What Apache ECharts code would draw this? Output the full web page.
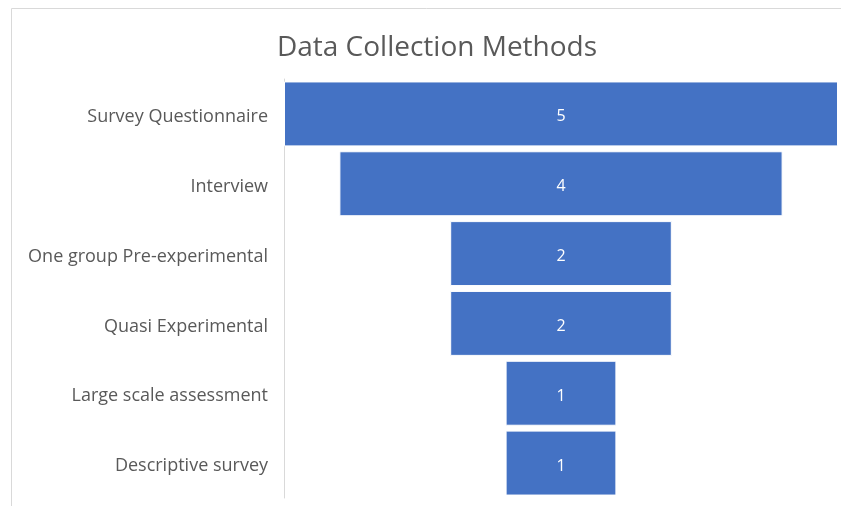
<!DOCTYPE html>
<html>
<head>
<meta charset="utf-8">
<script src="https://cdn.jsdelivr.net/npm/echarts@6/dist/echarts.min.js"></script>
<style>
  html, body { margin: 0; padding: 0; background: #fff; }
  #chart { width: 841px; height: 506px; }
</style>
</head>
<body>
<div id="chart"></div>
<script>
const methods = [
  "Survey Questionnaire",
  "Interview",
  "One group Pre-experimental",
  "Quasi Experimental",
  "Large scale assessment",
  "Descriptive survey",
];
const counts = [5, 4, 2, 2, 1, 1];

const maxCount = Math.max(...counts);
// invisible spacer so each bar sits centred like a funnel
const offsets = counts.map((v) => (maxCount - v) / 2);

const chart = echarts.init(document.getElementById("chart"));

chart.setOption({
  animation: false,
  textStyle: { fontFamily: "Open Sans" },
  title: {
    text: "Data Collection Methods",
    left: 432,
    top: 29,
    textAlign: "center",
    textStyle: { fontSize: 28, fontWeight: "normal", color: "#595959", fontFamily: "Open Sans" },
  },
  graphic: [
    {
      type: "rect",
      shape: { x: 11.5, y: 8.5, width: 900, height: 600 },
      style: { fill: "none", stroke: "#d9d9d9", lineWidth: 1 },
      silent: true,
    },
  ],
  grid: { left: 284, right: 3, top: 79, bottom: 8, containLabel: false },
  xAxis: {
    type: "value",
    min: 0,
    max: maxCount,
    show: false,
  },
  yAxis: {
    type: "category",
    data: methods,
    inverse: true,
    axisTick: { show: false },
    axisLine: { show: true, lineStyle: { color: "#d9d9d9", width: 1 } },
    axisLabel: {
      margin: 16,
      formatter: (v) => `{n|${v}}`,
      rich: { n: { fontSize: 18, color: "#595959", padding: [6, 0, 0, 0] } },
    },
  },
  series: [
    {
      type: "bar",
      stack: "funnel",
      data: offsets,
      itemStyle: { color: "transparent" },
      barWidth: "93%",
      silent: true,
    },
    {
      type: "bar",
      stack: "funnel",
      data: counts,
      barWidth: "93%",
      itemStyle: { color: "#4472C4", borderColor: "#ffffff", borderWidth: 1 },
      label: {
        show: true,
        position: "inside",
        color: "#ffffff",
        fontSize: 16,
        offset: [0, 3],
      },
    },
  ],
});
</script>
</body>
</html>
